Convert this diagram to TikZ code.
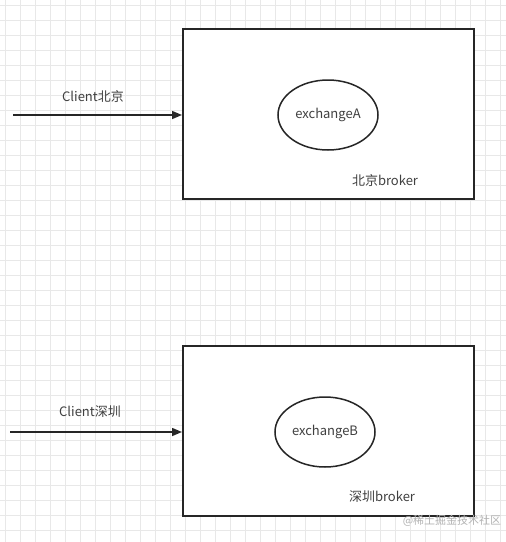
\documentclass[tikz,border=0pt]{standalone}
\usepackage{fontspec}
\setmainfont{Noto Sans CJK SC}
\usetikzlibrary{arrows.meta,shapes.geometric}
\begin{document}
\begin{tikzpicture}[x=1pt,y=-1pt,
  gridline/.style={draw=black!9,line width=0.8pt},
  broker/.style={draw=black!85,line width=2pt,fill=white},
  exch/.style={draw=black!85,line width=1.5pt,fill=white,ellipse,minimum width=100pt,minimum height=70pt,inner sep=0pt},
  lbl/.style={text=black!75,font=\fontsize{13}{15}\selectfont,inner sep=0pt},
  conn/.style={draw=black!85,line width=1.5pt,-{Triangle[length=10pt,width=8pt]}}]
\useasboundingbox (0,0) rectangle (506,542);
\fill[white] (0,0) rectangle (506,542);
\foreach \i in {0,...,33} {\draw[gridline] (5.5+15*\i,0) -- (5.5+15*\i,542);}
\foreach \j in {0,...,36} {\draw[gridline] (0,5.5+15*\j) -- (506,5.5+15*\j);}
% broker A
\node[broker,minimum width=291pt,minimum height=170pt,inner sep=0pt] (bA) at (328.5,114) {};
\node[exch] (eA) at (328,115) {};
\node[lbl] (tA) at (eA.center) {exchangeA};
\node[lbl] (nA) at (385,181) {北京broker};
\coordinate (sA) at (13,115);
\draw[conn] (sA) -- (sA -| bA.west);
\node[lbl] (cA) at (93,97) {Client北京};
% broker B
\node[broker,minimum width=291pt,minimum height=170pt,inner sep=0pt] (bB) at (328.5,431) {};
\node[exch] (eB) at (325,432) {};
\node[lbl] (tB) at (eB.center) {exchangeB};
\node[lbl] (nB) at (382,497) {深圳broker};
\coordinate (sB) at (10,432);
\draw[conn] (sB) -- (sB -| bB.west);
\node[lbl] (cB) at (90,412) {Client深圳};
% watermark
\node[text=black!30,font=\fontsize{11}{13}\selectfont,inner sep=0pt] (wm) at (452,521) {@稀土掘金技术社区};
\end{tikzpicture}
\end{document}
